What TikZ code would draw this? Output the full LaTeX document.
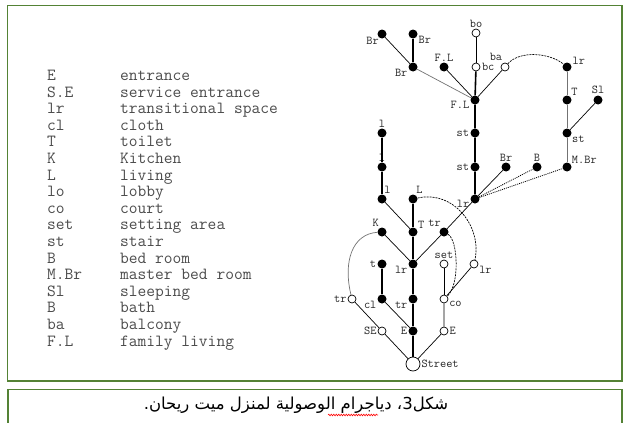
\documentclass[tikz,border=0pt]{standalone}
\usepackage{fontspec}
\newfontfamily\arabicfont[Script=Arabic]{DejaVu Sans}
\TeXXeTstate=1
\usetikzlibrary{decorations.pathmorphing}
\definecolor{framegreen}{RGB}{84,130,53}
\begin{document}
\begin{tikzpicture}[x=1pt,y=-1pt,
 fn/.style={circle,fill=black,inner sep=0pt,minimum size=9pt},
 on/.style={circle,draw=black,fill=white,inner sep=0pt,minimum size=8pt,line width=0.7pt},
 lbl/.style={font=\ttfamily\fontsize{12}{12}\selectfont,inner sep=0.5pt,text=black!85},
 every label/.style={lbl},
 label distance=0.5pt,
 thk/.style={line width=1.6pt},
 thn/.style={line width=0.7pt},
 gry/.style={line width=0.7pt,black!55},
 dsh/.style={line width=0.7pt,dash pattern=on 2pt off 1pt},
 dotl/.style={line width=0.8pt,dash pattern=on 1pt off 1pt},
 leg/.style={font=\ttfamily\fontsize{17}{17}\selectfont,anchor=base west,inner sep=0pt,text=black!70},
]
\useasboundingbox (0,0) rectangle (625,423);
\fill[white] (0,0) rectangle (625,423);
% frames
\draw[framegreen,line width=1.5pt] (7.5,5.5) rectangle (622,381);
\draw[framegreen,line width=1.2pt] (8,430) -- (8,389.5) -- (622,389.5) -- (622,430);
% legend
\foreach \a/\b [count=\i] in {E/entrance,S.E/service entrance,lr/transitional space,cl/cloth,T/toilet,K/Kitchen,L/living,lo/lobby,co/court,set/setting area,st/stair,B/bed room,M.Br/master bed room,Sl/sleeping,B/bath,ba/balcony,F.L/family living}{
  \node[leg] (k\i) at (47,{80.5+16.6*(\i-1)}) {\a};
  \node[leg] (v\i) at (120,{80.5+16.6*(\i-1)}) {\b};
}
% nodes - top
\node[fn,label={[label distance=-1pt]below left:Br}] (br) at (382,34) {};
\node[fn,label={-20:Br}] (b3a) at (413,34) {};
\node[fn,label={200:Br}] (b3b) at (413,67) {};
\node[fn,label={above:F.L}] (fls) at (444,67) {};
\node[fn,label={190:F.L}] (fl) at (475,100) {};
\node[on,label={above:bo}] (bo) at (476,33) {};
\node[on,label={[label distance=1pt]right:bc}] (bc) at (476,67) {};
\node[on,label={[label distance=2pt]110:ba}] (ba) at (505,67) {};
\node[fn,label={20:lr}] (rr) at (567,67) {};
\node[fn,label={45:T}] (tt) at (567,100) {};
\node[fn,label={above:Sl}] (sl) at (598,100) {};
\node[fn,label={-30:st}] (st3) at (567,133) {};
\node[fn,label={35:M.Br}] (mbr) at (567,167) {};
\node[fn,label={above:Br}] (b3c) at (506,167) {};
\node[fn,label={above:B}] (bb) at (537,167) {};
\node[fn,label={left:st}] (st1) at (475,133) {};
\node[fn,label={left:st}] (st2) at (475,167) {};
\node[fn,label={190:lr}] (lr) at (475,199) {};
% left part
\node[fn,label={above:l}] (l1) at (382,133) {};
\node[fn,label={above:l}] (l2) at (382,167) {};
\node[fn,label={70:l}] (l3) at (382,199) {};
\node[fn,label={60:L}] (L) at (413,199) {};
\node[fn,label={120:K}] (K) at (382,232) {};
\node[fn,label={30:T}] (tm) at (413,232) {};
\node[fn,label={120:tr}] (trf) at (444,232) {};
\node[fn,label={left:t}] (t) at (382,264) {};
\node[fn,label={200:lr}] (lrm) at (413,264) {};
\node[on,label={above:set}] (set) at (444,264) {};
\node[on,label={-20:lr}] (lro) at (474,264) {};
\node[on,label={left:tr}] (tro) at (352,299) {};
\node[fn,label={200:cl}] (cl) at (382,299) {};
\node[fn,label={200:tr}] (tr2) at (413,299) {};
\node[on,label={-20:co}] (co) at (444,299) {};
\node[on,label={left:SE}] (se) at (382,331) {};
\node[fn,label={left:E}] (e1) at (413,331) {};
\node[on,label={right:E}] (e2) at (444,331) {};
\node[on,minimum size=14pt,label={right:Street}] (street) at (413,364) {};
% edges - top
\draw[thn] (br) -- (b3b);
\draw[thk] (b3a) -- (b3b);
\draw[gry] (b3b) -- (fl);
\draw[thn] (fls) -- (fl);
\draw[thn] (bo) -- (bc);
\draw[thk] (bc) -- (fl) -- (st1) -- (st2) -- (lr);
\draw[thn] (ba) -- (fl);
\draw[dsh] (ba) .. controls (520,50) and (550,53) .. (rr);
\draw[gry] (rr) -- (tt) -- (st3) -- (mbr);
\draw[thn] (sl) -- (st3);
\draw[thn] (lr) -- (b3c);
\draw[dotl] (lr) -- (bb);
\draw[dotl] (lr) -- (mbr);
% edges - left
\draw[thk] (l1) -- (l2) -- (l3);
\draw[thn] (l3) -- (tm);
\draw[thk] (L) -- (tm) -- (lrm) -- (tr2) -- (e1) -- (street);
\draw[thn] (K) -- (lrm);
\draw[thn] (trf) -- (lrm);
\draw[thn] (lr) -- (trf);
\draw[dsh] (L) .. controls (455,190) and (482,228) .. (lro);
\draw[dsh] (trf) .. controls (458,240) and (460,285) .. (co);
\draw[gry] (K) .. controls (352,234) and (343,262) .. (tro);
\draw[thk] (t) -- (cl);
\draw[thn] (cl) -- (e1);
\draw[thn] (tro) -- (se) -- (street);
\draw[thn] (set) -- (co);
\draw[thn] (lro) -- (co);
\draw[thn] (co) -- (e2) -- (street);
% caption
\node[font=\arabicfont\fontsize{16.5}{16.5}\selectfont,inner sep=0pt] (cap) at (296,405) {\beginR شكل3، دياجرام الوصولية لمنزل ميت ريحان.\endR};
\coordinate (wl) at (328,415);
\coordinate (wr) at (378,415);
\draw[red,line width=0.6pt,decorate,decoration={snake,amplitude=0.8pt,segment length=2.5pt}] (wl) -- (wr);
\end{tikzpicture}
\end{document}
